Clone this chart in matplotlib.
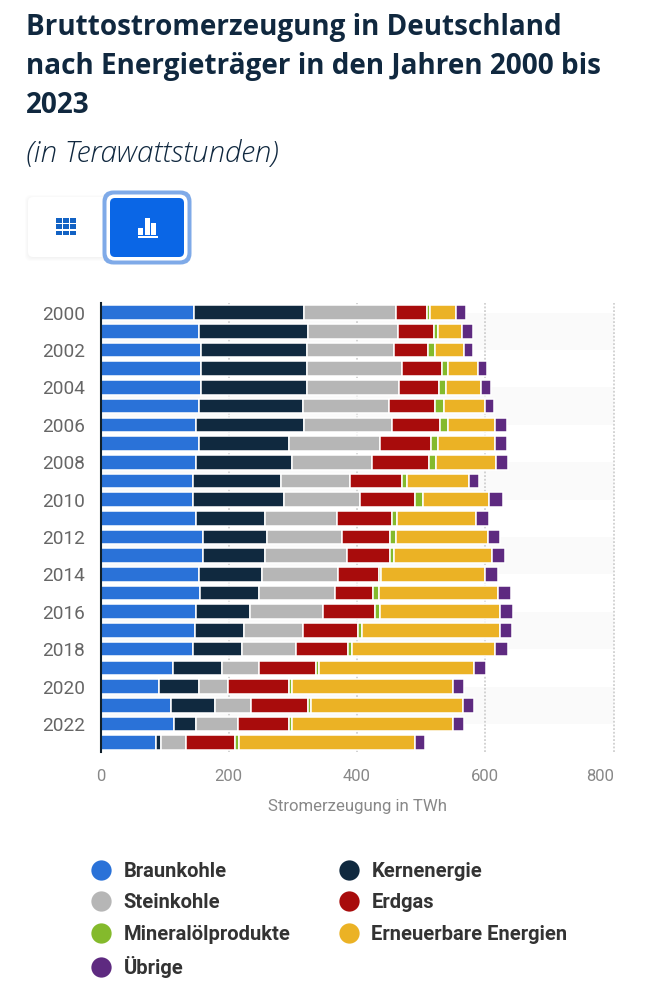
import matplotlib
matplotlib.use("Agg")
import matplotlib.pyplot as plt
import numpy as np
from matplotlib.lines import Line2D
from matplotlib.patches import FancyBboxPatch, Rectangle
from matplotlib.font_manager import FontProperties

years = list(range(2000, 2024))
braunkohle = [146,154,157,157,157,154,149,154,149,144,144,149,160,160,154,155,149,147,144,113,91,110,115,87]
kernenergie = [172,170,165,165,165,161,169,140,150,137,142,108,99,97,98,92,84,76,76,76,63,69,34,7]
steinkohle = [142,139,135,148,143,135,137,142,124,108,118,112,118,127,118,118,114,92,85,58,45,55,66,39]
erdgas = [49,57,54,62,62,72,75,79,89,81,87,85,74,67,64,60,81,86,81,89,95,89,79,77]
mineraloel = [5,6,11,9,11,13,11,11,11,8,11,8,9,6,4,9,7,6,6,5,5,5,5,6]
erneuerbare = [40,38,45,47,55,64,74,89,94,96,104,124,144,153,161,185,188,215,223,242,250,237,250,275]
uebrige = [15,16,13,15,15,15,18,18,18,16,21,20,18,20,20,21,20,20,20,18,18,18,18,15]

series = [
    ("Braunkohle", braunkohle, "#2a72d8"),
    ("Kernenergie", kernenergie, "#10293f"),
    ("Steinkohle", steinkohle, "#b6b6b6"),
    ("Erdgas", erdgas, "#a80c0c"),
    ("Mineralölprodukte", mineraloel, "#84ba2c"),
    ("Erneuerbare Energien", erneuerbare, "#ebb225"),
    ("Übrige", uebrige, "#5e2a80"),
]
legend_order = ["Braunkohle", "Steinkohle", "Mineralölprodukte", "Übrige",
                "Kernenergie", "Erdgas", "Erneuerbare Energien"]
xticks = [0, 200, 400, 600, 800]

W, H = 648, 1000
fig = plt.figure(figsize=(W / 100, H / 100), dpi=100, facecolor="white")

# page furniture in pixel coordinates
bg = fig.add_axes([0, 0, 1, 1])
bg.set_xlim(0, W); bg.set_ylim(H, 0); bg.axis("off")
for i in range(4, 0, -1):
    bg.add_patch(FancyBboxPatch((28 - i + 1, 197 - i + 2), 78 + 2 * i - 2, 60 + 2 * i - 2,
                                boxstyle="round,pad=0,rounding_size=6", fc="#000000", alpha=0.012, ec="none"))
bg.add_patch(FancyBboxPatch((28, 197), 78, 60, boxstyle="round,pad=0,rounding_size=5", fc="white", ec="none"))
bg.add_patch(FancyBboxPatch((102.5, 190.5), 89, 74, boxstyle="round,pad=0,rounding_size=11", fc="#7faae8", ec="none"))
bg.add_patch(FancyBboxPatch((106.5, 194.5), 81, 66, boxstyle="round,pad=0,rounding_size=8", fc="white", ec="none"))
bg.add_patch(FancyBboxPatch((110, 198), 74, 59, boxstyle="round,pad=0,rounding_size=5", fc="#0a66e6", ec="none"))
for r in range(3):
    for c in range(3):
        bg.add_patch(Rectangle((55.7 + c * 7.1, 218.3 + r * 6.1), 5.9, 4.9, fc="#1262c4", ec="none"))
for x0, y0, w, h in [(137.5, 228, 5.2, 6.5), (144.5, 217.5, 5.5, 17), (151, 223, 5.2, 11.5), (137.5, 236.2, 20, 1.9)]:
    bg.add_patch(Rectangle((x0, y0), w, h, fc="white", ec="none"))

title_c = "#10283f"
for line, base in [("Bruttostromerzeugung in Deutschland", 35),
                   ("nach Energieträger in den Jahren 2000 bis", 74),
                   ("2023", 113)]:
    fig.text(26 / W, 1 - base / H, line, family="Open Sans", weight="bold", fontsize=20.05,
             color=title_c, va="baseline", ha="left")
fig.text(26 / W, 1 - 162 / H, "(in Terawattstunden)", family="Open Sans", style="italic", weight="light",
         fontsize=21.3, color=title_c, va="baseline", ha="left")

# chart
left, right, top, bottom = 100.5, 613.7, 303.3, 752
ax = fig.add_axes([left / W, 1 - bottom / H, (right - left) / W, (bottom - top) / H])
ax.patch.set_alpha(0)
y = np.arange(len(years))
for start in range(0, len(years) - 2, 4):
    ax.axhspan(start, start + 2, color="#fafafa", zorder=0, lw=0)
for t in xticks[1:]:
    ax.axvline(t, color="#c8c8c8", lw=1.1, ls=(0, (1.2, 1.2)), zorder=1, clip_on=False)

base = np.zeros(len(years))
handles = {}
for name, vals, col in series:
    vals = np.array(vals, dtype=float)
    ax.barh(y, vals, left=base, height=0.78, color=col, edgecolor="white", linewidth=1.1, zorder=3)
    handles[name] = Line2D([], [], ls="", marker="o", ms=14.6, mfc=col, mec=col, mew=0)
    base += vals

ax.set_xlim(0, 800)
ax.set_ylim(len(years) - 0.5, -0.5)
ax.set_yticks(y[::2], [str(v) for v in years[::2]], family="Roboto", fontsize=13.7, color="#666666")
ax.set_xticks(xticks, [str(v) for v in xticks], family="Roboto", fontsize=12, color="#888888")
ax.get_xticklabels()[-1].set_ha("right")
ax.tick_params(axis="y", length=0, pad=11.4)
ax.tick_params(axis="x", length=0, pad=12)
for s in ["top", "right", "bottom"]:
    ax.spines[s].set_visible(False)
ax.spines["left"].set_linewidth(1.5)
ax.spines["left"].set_color("#10202c")
ax.spines["left"].set_zorder(5)
ax.set_xlabel("Stromerzeugung in TWh", family="Roboto", fontsize=12.1, color="#888888", labelpad=10.7)

leg = fig.legend([handles[n] for n in legend_order], legend_order, ncol=2, loc="upper left",
                 bbox_to_anchor=(91 / W, 1 - 862 / H), bbox_transform=fig.transFigure,
                 frameon=False, prop=FontProperties(family="Roboto", weight="bold", size=14.5),
                 labelcolor="#333333", borderpad=0, borderaxespad=0, labelspacing=0.62,
                 handlelength=1.0, handletextpad=0.62, columnspacing=2.4, alignment="left")

fig.savefig("out.png", dpi=100, facecolor="white")
